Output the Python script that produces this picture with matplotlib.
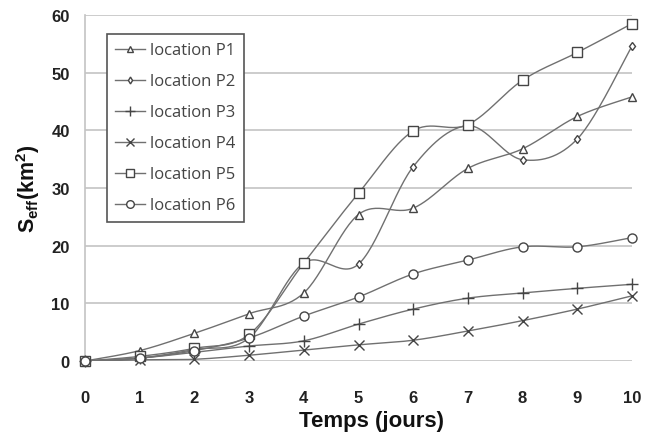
import numpy as np
import matplotlib.pyplot as plt

days = [0, 1, 2, 3, 4, 5, 6, 7, 8, 9, 10]
labels = ['location P1', 'location P2', 'location P3',
          'location P4', 'location P5', 'location P6']
p1 = [0, 1.8, 4.8, 8.2, 11.8, 25.4, 26.5, 33.4, 36.8, 42.4, 45.8]
p2 = [0, 0.5, 2.0, 4.0, 17.0, 16.8, 33.7, 40.8, 34.9, 38.5, 54.6]
p3 = [0, 0.5, 1.5, 2.6, 3.5, 6.4, 9.0, 10.9, 11.8, 12.6, 13.3]
p4 = [0, 0.2, 0.3, 1.0, 1.9, 2.8, 3.6, 5.2, 7.0, 9.0, 11.3]
p5 = [0, 0.8, 2.2, 4.6, 17.0, 29.1, 39.9, 41.0, 48.7, 53.5, 58.5]
p6 = [0, 0.5, 1.8, 4.0, 7.8, 11.1, 15.1, 17.5, 19.8, 19.8, 21.4]
series = [p1, p2, p3, p4, p5, p6]
markers = ['^', 'd', '+', 'x', 's', 'o']
msizes = [6, 4.5, 8, 7, 7, 6.5]


def smooth(x, y, n=30):
    # Excel-style smoothed line (Catmull-Rom through the points)
    x = np.asarray(x, float)
    y = np.asarray(y, float)
    px = np.concatenate([[x[0]], x, [x[-1]]])
    py = np.concatenate([[y[0]], y, [y[-1]]])
    xs, ys = [], []
    t = np.linspace(0, 1, n)
    for i in range(1, len(px) - 2):
        for arr, out in ((px, xs), (py, ys)):
            p0, pa, pb, p3_ = arr[i - 1], arr[i], arr[i + 1], arr[i + 2]
            c1 = pa + (pb - p0) / 6
            c2 = pb - (p3_ - pa) / 6
            out.extend((1 - t) ** 3 * pa + 3 * (1 - t) ** 2 * t * c1
                       + 3 * (1 - t) * t ** 2 * c2 + t ** 3 * pb)
    return xs, ys


plt.rcParams['mathtext.fontset'] = 'custom'
plt.rcParams['mathtext.rm'] = 'Liberation Sans'
plt.rcParams['mathtext.bf'] = 'Liberation Sans:bold'

fig = plt.figure(figsize=(6.45, 4.39), dpi=100)
ax = fig.add_axes([85 / 645, 77 / 439, 547 / 645, 346 / 439])

for vals, lab, m, ms in zip(series, labels, markers, msizes):
    sx, sy = smooth(days, vals)
    ax.plot(sx, sy, color='#707070', lw=1.0, zorder=2)
    ax.plot(days, vals, ls='none', marker=m, ms=ms, mfc='white',
            mec='#454545', mew=1.0, zorder=3, clip_on=False)
    ax.plot([], [], color='#707070', lw=1.0, marker=m, ms=ms - 1,
            mfc='white', mec='#454545', mew=1.0, label=lab)

ax.set_xlim(0, 10)
ax.set_ylim(0, 60)
ax.set_xticks(days)
ax.set_yticks([0, 10, 20, 30, 40, 50, 60])
ax.grid(axis='y', color='#c4c4c4', lw=1.2)
ax.set_axisbelow(True)
for s in ['top', 'right', 'bottom']:
    ax.spines[s].set_visible(False)
ax.spines['left'].set_color('#c4c4c4')
ax.spines['left'].set_linewidth(1.2)
ax.tick_params(length=0)
ax.tick_params(axis='x', pad=21)
ax.tick_params(axis='y', pad=11)
for lbl in ax.get_xticklabels() + ax.get_yticklabels():
    lbl.set_family('Liberation Sans')
    lbl.set_fontweight('bold')
    lbl.set_fontsize(12)
    lbl.set_color('#222222')

ax.set_xlabel('Temps (jours)', fontsize=16, fontweight='bold',
              family='Liberation Sans', color='#111111')
ax.xaxis.set_label_coords(0.524, -0.142)
ax.set_ylabel(r'$\mathbf{S_{eff}(km^2)}$', fontsize=15.5, labelpad=7,
              color='#111111')

leg = ax.legend(loc='upper left', bbox_to_anchor=(107 / 645, 1 - 35 / 439),
                bbox_transform=fig.transFigure, fancybox=False,
                edgecolor='#555555', framealpha=1, handlelength=1.8,
                handletextpad=0.3, labelspacing=0.9, borderpad=0.5,
                borderaxespad=0,
                prop={'family': 'Open Sans', 'size': 12})
leg.get_frame().set_linewidth(1.2)
for t in leg.get_texts():
    t.set_color('#444444')

fig.savefig('out.png', dpi=100)
